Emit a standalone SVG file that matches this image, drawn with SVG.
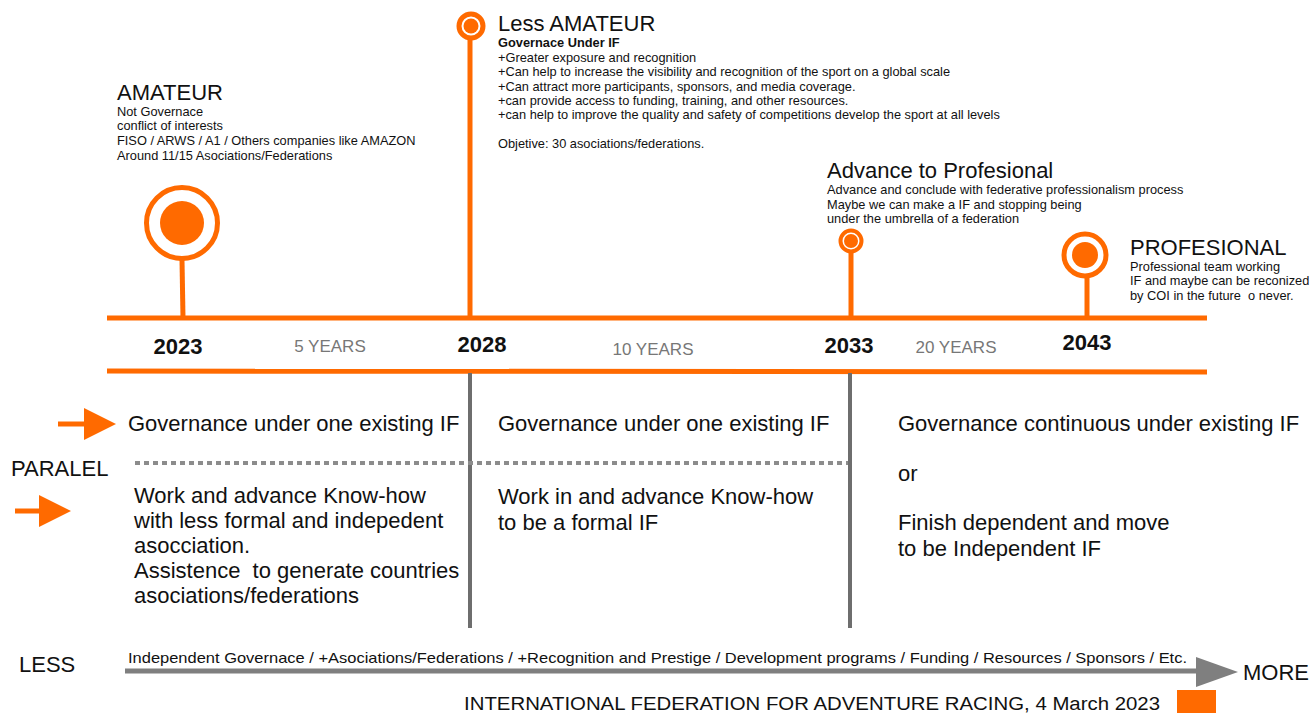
<svg xmlns="http://www.w3.org/2000/svg" width="1312" height="713" viewBox="0 0 1312 713">
<style>
text{font-family:"Liberation Sans",Arial,sans-serif;fill:#111}
.h{font-size:22px}
.s{font-size:12.8px}
.yr{font-size:22px;font-weight:bold}
.gap{font-size:17px;fill:#777}
.m{font-size:22px}
.or{stroke:#ff6a00;fill:none}
.gr{stroke:#6e6e6e;stroke-width:4;fill:none}
</style>
<defs>
<marker id="oa" viewBox="0 0 10 10" refX="0" refY="5" markerWidth="34" markerHeight="32" markerUnits="userSpaceOnUse" orient="auto"><path d="M0 0 L10 5 L0 10 Z" fill="#ff6a00"/></marker>
</defs>
<rect width="1312" height="713" fill="#fff"/>

<g id="timeline">
<line class="or" x1="107" y1="318" x2="1207" y2="318" stroke-width="5"/>
<line class="or" x1="107" y1="371" x2="1207" y2="372" stroke-width="5"/>
</g>

<g id="connectors">
<line class="gr" x1="470" y1="373" x2="470" y2="628"/>
<line class="gr" x1="850" y1="373" x2="850" y2="628"/>
<line x1="135" y1="463" x2="848" y2="463" stroke="#8c8c8c" stroke-width="4" stroke-dasharray="5 4"/>
<line x1="58" y1="424" x2="84" y2="424" stroke="#ff6a00" stroke-width="5" marker-end="url(#oa)"/>
<line x1="15" y1="511" x2="39" y2="511" stroke="#ff6a00" stroke-width="5" marker-end="url(#oa)"/>
<line x1="125" y1="671" x2="1200" y2="671" stroke="#7f7f7f" stroke-width="5"/>
<path d="M1196 657 L1238 672 L1196 687 Z" fill="#7f7f7f"/>
</g>

<g id="node-2023">
<line class="or" x1="182" y1="260" x2="183" y2="318" stroke-width="5"/>
<circle class="or" cx="182" cy="223" r="35.5" stroke-width="5"/>
<circle cx="182" cy="223" r="22" fill="#ff6a00"/>
<text class="h" x="117" y="100">AMATEUR</text>
<text class="s" x="117" y="116">Not Governace</text>
<text class="s" x="117" y="130">conflict of interests</text>
<text class="s" x="117" y="145">FISO / ARWS / A1 / Others companies like AMAZON</text>
<text class="s" x="117" y="160">Around 11/15 Asociations/Federations</text>
<text class="yr" x="178" y="354" text-anchor="middle">2023</text>
</g>

<g id="node-2028">
<line class="or" x1="470" y1="40" x2="470" y2="318" stroke-width="5"/>
<circle class="or" cx="471" cy="26" r="12" stroke-width="5"/>
<circle cx="471" cy="26" r="7.5" fill="#ff6a00"/>
<text class="h" x="498" y="31">Less AMATEUR</text>
<text class="s" x="498" y="47" font-weight="bold">Governace Under IF</text>
<text class="s" x="498" y="62">+Greater exposure and recognition</text>
<text class="s" x="498" y="76">+Can help to increase the visibility and recognition of the sport on a global scale</text>
<text class="s" x="498" y="91">+Can attract more participants, sponsors, and media coverage.</text>
<text class="s" x="498" y="105">+can provide access to funding, training, and other resources.</text>
<text class="s" x="498" y="119">+can help to improve the quality and safety of competitions develop the sport at all levels</text>
<text class="s" x="498" y="148">Objetive: 30 asociations/federations.</text>
<text class="yr" x="482" y="352" text-anchor="middle">2028</text>
</g>

<g id="node-2033">
<line class="or" x1="851" y1="252" x2="851" y2="318" stroke-width="5"/>
<circle class="or" cx="851" cy="241" r="10.5" stroke-width="4"/>
<circle cx="851" cy="241" r="7" fill="#ff6a00"/>
<text class="h" x="827" y="178">Advance to Profesional</text>
<text class="s" x="827" y="194">Advance and conclude with federative professionalism process</text>
<text class="s" x="827" y="209">Maybe we can make a IF and stopping being</text>
<text class="s" x="827" y="223">under the umbrella of a federation</text>
<text class="yr" x="849" y="353" text-anchor="middle">2033</text>
</g>

<g id="node-2043">
<line class="or" x1="1087" y1="277" x2="1087" y2="318" stroke-width="5"/>
<circle class="or" cx="1085" cy="255" r="21" stroke-width="5"/>
<circle cx="1085" cy="255" r="13" fill="#ff6a00"/>
<text class="h" x="1130" y="255">PROFESIONAL</text>
<text class="s" x="1130" y="271">Professional team working</text>
<text class="s" x="1130" y="285">IF and maybe can be reconized</text>
<text class="s" x="1130" y="300" xml:space="preserve">by COI in the future  o never.</text>
<text class="yr" x="1087" y="350" text-anchor="middle">2043</text>
</g>

<g id="periods">
<text class="gap" x="330" y="352" text-anchor="middle">5 YEARS</text>
<text class="gap" x="653" y="355" text-anchor="middle">10 YEARS</text>
<text class="gap" x="956" y="353" text-anchor="middle">20 YEARS</text>
</g>

<g id="col-1">
<text class="m" x="128" y="431">Governance under one existing IF</text>
<text class="m" x="134" y="503">Work and advance Know-how</text>
<text class="m" x="134" y="528">with less formal and indepedent</text>
<text class="m" x="134" y="553">asocciation.</text>
<text class="m" x="134" y="578" xml:space="preserve">Assistence  to generate countries</text>
<text class="m" x="134" y="603">asociations/federations</text>
</g>

<g id="col-2">
<text class="m" x="498" y="431">Governance under one existing IF</text>
<text class="m" x="498" y="504">Work in and advance Know-how</text>
<text class="m" x="498" y="530">to be a formal IF</text>
</g>

<g id="col-3">
<text class="m" x="898" y="431">Governance continuous under existing IF</text>
<text class="m" x="898" y="481">or</text>
<text class="m" x="898" y="530">Finish dependent and move</text>
<text class="m" x="898" y="556">to be Independent IF</text>
</g>

<g id="labels">
<text x="11" y="476" font-size="22">PARALEL</text>
<text x="19" y="672" font-size="22">LESS</text>
<text x="1243" y="680" font-size="22" textLength="66" lengthAdjust="spacingAndGlyphs">MORE</text>
<text x="128" y="663" font-size="15" textLength="1059" lengthAdjust="spacingAndGlyphs">Independent Governace / +Asociations/Federations / +Recognition and Prestige / Development programs / Funding / Resources / Sponsors / Etc.</text>
<text x="464" y="710" font-size="18" textLength="696" lengthAdjust="spacingAndGlyphs">INTERNATIONAL FEDERATION FOR ADVENTURE RACING, 4 March 2023</text>
<rect x="1177" y="690" width="39" height="23" fill="#ff6a00"/>
</g>
</svg>
